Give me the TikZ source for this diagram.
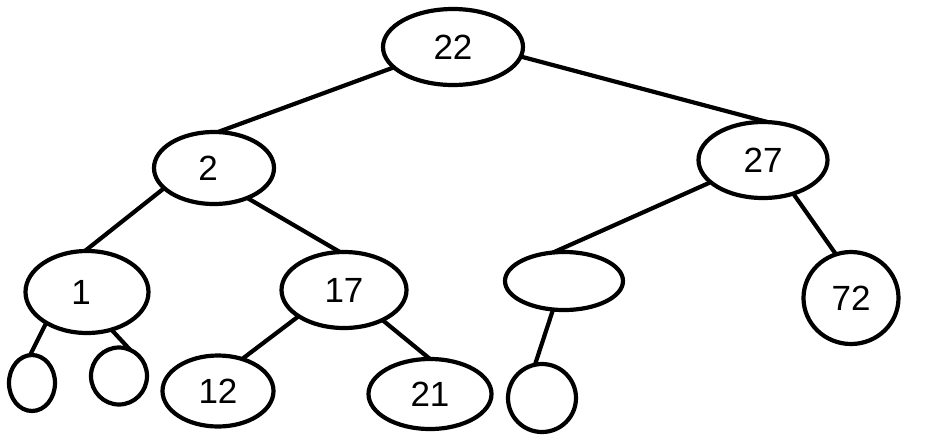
\documentclass[tikz,border=0pt]{standalone}
\usepackage{fontspec}
\setmainfont{Liberation Sans}
\usetikzlibrary{shapes.geometric}
\tikzset{
  el/.style={ellipse, draw, line width=4.2pt, inner sep=0pt, outer sep=0pt,
    font=\fontsize{35}{38}\selectfont},
  edge/.style={line width=4.2pt}
}
\begin{document}
\begin{tikzpicture}[x=1pt,y=-1pt]
\useasboundingbox (0,0) rectangle (940,440);
\node[el, minimum width=140, minimum height=76] (n22) at (453,47) {22};
\node[el, minimum width=120, minimum height=72] (n2) at (214,168) {\hspace*{-12pt}2};
\node[el, minimum width=129, minimum height=76] (n27) at (763,160) {27};
\node[el, minimum width=123, minimum height=82] (n1) at (87,292) {\hspace*{-12pt}1};
\node[el, minimum width=125, minimum height=76] (n17) at (344,290) {17};
\node[el, minimum width=118, minimum height=58] (ne) at (564,281) {};
\node[el, minimum width=95, minimum height=92] (n72) at (851,298) {72};
\node[el, minimum width=46, minimum height=56] (c1) at (32,383) {};
\node[el, minimum width=56, minimum height=57] (c2) at (119,376) {};
\node[el, minimum width=111, minimum height=71] (n12) at (218,391) {12};
\node[el, minimum width=123, minimum height=70] (n21) at (430,394) {21};
\node[el, minimum width=68, minimum height=68] (c3) at (542,398) {};
\draw[edge] (n22.199) -- (n2.84);
\draw[edge] (n22.352) -- (n27.83);
\draw[edge] (n2.202) -- (n1.93);
\draw[edge] (n2.318) -- (n17.96);
\draw[edge] (n27.203) -- (ne.111);
\draw[edge] (n27.312) -- (n72.109);
\draw[edge] (n1.217) -- (c1.94);
\draw[edge] (n1.303) -- (c2.67);
\draw[edge] (n17.210) -- (n12.53);
\draw[edge] (n17.322) -- (n21.90);
\draw[edge] (ne.249) -- (c3.102);
\end{tikzpicture}
\end{document}
